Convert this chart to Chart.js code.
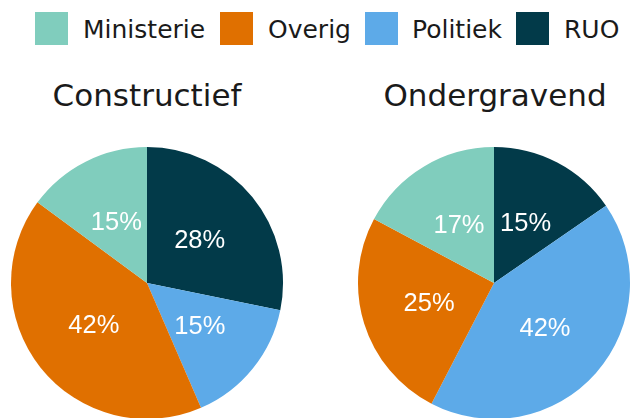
<!DOCTYPE html>
<html>
<head>
<meta charset="utf-8">
<script src="https://cdn.jsdelivr.net/npm/chart.js@4/dist/chart.umd.min.js"></script>
<style>
  html, body { margin: 0; padding: 0; width: 630px; height: 418px; overflow: hidden; background: #fff; position: relative; }
  .box { position: absolute; width: 33px; height: 33px; }
  .lt { position: absolute; font-family: "DejaVu Sans", sans-serif; font-size: 25px; line-height: 25px; color: #1a1a1a; white-space: nowrap; }
  .title { position: absolute; font-family: "DejaVu Sans", sans-serif; font-size: 31px; line-height: 31px; color: #1a1a1a; white-space: nowrap; text-align: center; width: 300px; }
  .pie { position: absolute; width: 290px; height: 290px; }
</style>
</head>
<body>
<div id="legend"></div>
<div id="titles"></div>
<div class="pie" style="left:2px; top:138px;"><canvas id="c0" width="290" height="290"></canvas></div>
<div class="pie" style="left:349px; top:138px;"><canvas id="c1" width="290" height="290"></canvas></div>
<script>
// ---- data ----
const categories = ['Ministerie', 'Overig', 'Politiek', 'RUO'];
const panels = ['Constructief', 'Ondergravend'];
const constructief = [14.9, 41.6, 15.3, 28.2];   // % per category (order of categories)
const ondergravend = [17.2, 25.2, 42.2, 15.4];

// ---- styles ----
const colors = { Ministerie: '#80cdbd', Overig: '#e07000', Politiek: '#5daae8', RUO: '#023a49' };
const legendBoxX = [35, 220, 365, 516];
const legendTextX = [83, 268, 412, 564];
const titleCenterX = [147, 495];

// legend (HTML)
const legend = document.getElementById('legend');
categories.forEach((c, i) => {
  const b = document.createElement('div');
  b.className = 'box';
  b.style.left = legendBoxX[i] + 'px';
  b.style.top = '12px';
  b.style.background = colors[c];
  legend.appendChild(b);
  const t = document.createElement('div');
  t.className = 'lt';
  t.style.left = legendTextX[i] + 'px';
  t.style.top = '17px';
  t.textContent = c;
  legend.appendChild(t);
});

// titles
const titles = document.getElementById('titles');
panels.forEach((p, i) => {
  const t = document.createElement('div');
  t.className = 'title';
  t.style.left = (titleCenterX[i] - 150) + 'px';
  t.style.top = '80px';
  t.textContent = p;
  titles.appendChild(t);
});

const labelPlugin = {
  id: 'sliceLabels',
  afterDatasetsDraw(chart) {
    const ctx = chart.ctx;
    const meta = chart.getDatasetMeta(0);
    const vals = chart.data.datasets[0].data;
    ctx.save();
    ctx.fillStyle = '#ffffff';
    ctx.font = '25.5px "Liberation Sans", Arial, sans-serif';
    ctx.textAlign = 'center';
    ctx.textBaseline = 'middle';
    meta.data.forEach((arc, i) => {
      const p = arc.getCenterPoint();
      ctx.fillText(Math.round(vals[i]) + '%', p.x, p.y + 1);
    });
    ctx.restore();
  }
};

function makePie(id, values) {
  // draw clockwise from top: RUO, Politiek, Overig, Ministerie
  const order = categories.slice().reverse();
  const data = order.map(c => values[categories.indexOf(c)]);
  new Chart(document.getElementById(id), {
    type: 'pie',
    data: {
      labels: order,
      datasets: [{
        data: data,
        backgroundColor: order.map(c => colors[c]),
        borderWidth: 0,
        hoverOffset: 0
      }]
    },
    options: {
      responsive: false,
      animation: false,
      radius: 136,
      layout: { padding: 0 },
      plugins: { legend: { display: false }, tooltip: { enabled: false }, title: { display: false } },
      events: []
    },
    plugins: [labelPlugin]
  });
}

makePie('c0', constructief);
makePie('c1', ondergravend);
</script>
</body>
</html>
